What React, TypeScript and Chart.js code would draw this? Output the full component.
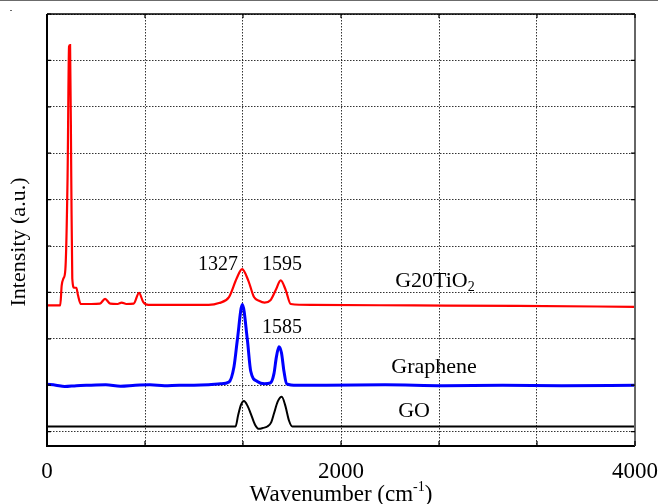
import React, { useEffect, useRef } from "react";
import { Chart, registerables } from "chart.js";

Chart.register(...registerables);

const FONT = "'Liberation Serif', 'Times New Roman', serif";

// G20TiO2 (red)
const redX = [0, 90, 100, 112, 125, 140, 150, 157, 165, 172, 185, 200, 210, 230, 300, 360, 395, 430, 480, 508, 540, 590, 626, 655, 690, 1100, 1170, 1238, 1290, 1327, 1370, 1408, 1442, 1480, 1520, 1556, 1590, 1624, 1658, 1800, 2500, 3200, 4000];
const redY = [2.72, 2.72, 3.15, 3.3, 3.5, 5.5, 8.3, 8.33, 5.5, 3.3, 3.1, 3.1, 2.95, 2.75, 2.75, 2.76, 2.86, 2.76, 2.75, 2.78, 2.75, 2.76, 2.99, 2.79, 2.73, 2.73, 2.77, 2.9, 3.3, 3.5, 3.25, 2.9, 2.82, 2.78, 2.83, 3.05, 3.26, 3.05, 2.75, 2.73, 2.72, 2.71, 2.69];

// Graphene (blue)
const blueX = [0, 60, 120, 200, 300, 400, 500, 600, 700, 800, 900, 1000, 1100, 1180, 1238, 1272, 1295, 1329, 1363, 1386, 1431, 1480, 1520, 1544, 1560, 1578, 1595, 1612, 1630, 1700, 1900, 2300, 2700, 3100, 3500, 4000];
const blueY = [1.02, 1.0, 0.97, 0.99, 1.0, 1.01, 0.98, 1.0, 1.01, 0.99, 1.0, 1.0, 1.01, 1.03, 1.07, 1.4, 1.98, 2.74, 1.98, 1.3, 1.08, 1.03, 1.05, 1.25, 1.6, 1.83, 1.7, 1.3, 1.03, 1.0, 1.0, 1.01, 0.99, 1.0, 0.99, 1.0];

// GO (black)
const goX = [0, 1283, 1300, 1320, 1340, 1365, 1386, 1415, 1442, 1470, 1499, 1525, 1544, 1570, 1597, 1622, 1646, 1669, 4000];
const goY = [0.11, 0.11, 0.35, 0.58, 0.66, 0.55, 0.39, 0.15, 0.06, 0.08, 0.11, 0.2, 0.39, 0.65, 0.75, 0.55, 0.24, 0.11, 0.11];

// axes
const xGrid = [0, 666.67, 1333.33, 2000, 2666.67, 3333.33, 4000];
const xTickLabels = ["0", "", "", "2000", "", "", "4000"];
const yGrid = [0, 1, 2, 3, 4, 5, 6, 7, 8, 9];
const xMin = 0;
const xMax = 4000;
const yMin = -0.31;
const yMax = 9;

// annotations: text, x value, y value
const peakLabels = ["1327", "1595", "1585"];
const peakLabelX = [1163, 1599, 1599];
const peakLabelY = [3.59, 3.59, 2.24];
const seriesNames = ["Graphene", "GO"];
const seriesNameX = [2633, 2497];
const seriesNameY = [1.39, 0.45];
const g20Label = { base: "G20TiO", sub: "2", x: 2639, y: 3.24 };

const toPts = (xs: number[], ys: number[]) => xs.map((x, i) => ({ x, y: ys[i] }));

const decorPlugin = {
  id: "decor",
  afterDraw(chart: any) {
    const { ctx, chartArea: ca, scales } = chart;
    const xs = scales.x;
    const ys = scales.y;
    ctx.save();
    // page top line artifact
    ctx.fillStyle = "#6b6b6b";
    ctx.fillRect(0, 0, chart.width, 1);
    ctx.fillRect(10, 10, 2, 1);

    // frame
    ctx.lineCap = "butt";
    ctx.strokeStyle = "#000";
    ctx.lineWidth = 1.5;
    ctx.beginPath();
    ctx.moveTo(ca.left, ca.top);
    ctx.lineTo(ca.right, ca.top);
    ctx.stroke();
    ctx.lineWidth = 2;
    ctx.beginPath();
    ctx.moveTo(ca.left, ca.top);
    ctx.lineTo(ca.left, ca.bottom);
    ctx.lineTo(ca.right, ca.bottom);
    ctx.stroke();
    ctx.strokeStyle = "#666";
    ctx.beginPath();
    ctx.moveTo(ca.right, ca.top);
    ctx.lineTo(ca.right, ca.bottom);
    ctx.stroke();

    // inward tick marks
    ctx.strokeStyle = "#000";
    ctx.lineWidth = 1.2;
    xGrid.forEach((v) => {
      const px = xs.getPixelForValue(v);
      ctx.beginPath();
      ctx.moveTo(px, ca.bottom);
      ctx.lineTo(px, ca.bottom - 5);
      ctx.moveTo(px, ca.top);
      ctx.lineTo(px, ca.top + 4);
      ctx.stroke();
    });
    yGrid.forEach((v) => {
      const py = ys.getPixelForValue(v);
      ctx.beginPath();
      ctx.moveTo(ca.left, py);
      ctx.lineTo(ca.left + 4, py);
      ctx.moveTo(ca.right, py);
      ctx.lineTo(ca.right - 4, py);
      ctx.stroke();
    });

    // annotations
    ctx.fillStyle = "#000";
    ctx.textAlign = "center";
    ctx.textBaseline = "middle";
    ctx.font = `20px ${FONT}`;
    peakLabels.forEach((t, i) => {
      ctx.fillText(t, xs.getPixelForValue(peakLabelX[i]), ys.getPixelForValue(peakLabelY[i]));
    });
    ctx.font = `22px ${FONT}`;
    seriesNames.forEach((t, i) => {
      ctx.fillText(t, xs.getPixelForValue(seriesNameX[i]), ys.getPixelForValue(seriesNameY[i]));
    });
    // G20TiO2 with subscript
    {
      ctx.font = `22px ${FONT}`;
      const wBase = ctx.measureText(g20Label.base).width;
      ctx.font = `14px ${FONT}`;
      const wSub = ctx.measureText(g20Label.sub).width;
      const cx = xs.getPixelForValue(g20Label.x);
      const cy = ys.getPixelForValue(g20Label.y);
      const left = cx - (wBase + wSub) / 2;
      ctx.textAlign = "left";
      ctx.font = `22px ${FONT}`;
      ctx.fillText(g20Label.base, left, cy);
      ctx.font = `14px ${FONT}`;
      ctx.fillText(g20Label.sub, left + wBase, cy + 6);
    }

    // x axis title with superscript
    {
      const main = "Wavenumber (cm";
      const sup = "-1";
      const close = ")";
      ctx.textBaseline = "alphabetic";
      ctx.font = `23px ${FONT}`;
      const w1 = ctx.measureText(main).width;
      const w3 = ctx.measureText(close).width;
      ctx.font = `14px ${FONT}`;
      const w2 = ctx.measureText(sup).width;
      const cx = (ca.left + ca.right) / 2;
      const base = 501;
      let x = cx - (w1 + w2 + w3) / 2;
      ctx.textAlign = "left";
      ctx.font = `23px ${FONT}`;
      ctx.fillText(main, x, base);
      x += w1;
      ctx.font = `14px ${FONT}`;
      ctx.fillText(sup, x, base - 10);
      x += w2;
      ctx.font = `23px ${FONT}`;
      ctx.fillText(close, x, base);
    }

    // y axis title
    ctx.save();
    ctx.translate(19, (ca.top + ca.bottom) / 2 + 12);
    ctx.rotate(-Math.PI / 2);
    ctx.textAlign = "center";
    ctx.textBaseline = "middle";
    ctx.font = `22px ${FONT}`;
    ctx.fillText("Intensity (a.u.)", 0, 0);
    ctx.restore();

    ctx.restore();
  },
};

export default function App() {
  const ref = useRef<HTMLCanvasElement | null>(null);

  useEffect(() => {
    if (!ref.current) return;
    const gridColor = "rgba(0,0,0,0.8)";
    const chart = new Chart(ref.current, {
      type: "line",
      data: {
        datasets: [
          { label: "G20TiO2", data: toPts(redX, redY), borderColor: "#ff0000", borderWidth: 2.2, pointRadius: 0, cubicInterpolationMode: "monotone" },
          { label: "Graphene", data: toPts(blueX, blueY), borderColor: "#0000ff", borderWidth: 3, pointRadius: 0, cubicInterpolationMode: "monotone" },
          { label: "GO", data: toPts(goX, goY), borderColor: "#000000", borderWidth: 2, pointRadius: 0, cubicInterpolationMode: "monotone" },
        ],
      },
      options: {
        animation: false,
        responsive: false,
        layout: { padding: { top: 14, right: 23, left: 0, bottom: 0 } },
        plugins: { legend: { display: false }, tooltip: { enabled: false } },
        scales: {
          x: {
            type: "linear",
            min: xMin,
            max: xMax,
            afterBuildTicks: (s: any) => {
              s.ticks = xGrid.map((v) => ({ value: v }));
            },
            afterFit: (s: any) => {
              s.height = 58;
              s.paddingLeft = 0;
              s.paddingRight = 0;
            },
            ticks: {
              callback: (_v: any, i: number) => xTickLabels[i],
              font: { family: FONT, size: 23 },
              color: "#000",
              padding: 12,
              maxRotation: 0,
              autoSkip: false,
            },
            grid: { color: gridColor, lineWidth: 1, drawTicks: false },
            border: { display: false, dash: [1.5, 1.5] },
          },
          y: {
            type: "linear",
            min: yMin,
            max: yMax,
            afterBuildTicks: (s: any) => {
              s.ticks = yGrid.map((v) => ({ value: v }));
            },
            afterFit: (s: any) => {
              s.width = 47;
              s.paddingTop = 0;
              s.paddingBottom = 0;
            },
            ticks: { display: false },
            grid: { color: gridColor, lineWidth: 1, drawTicks: false },
            border: { display: false, dash: [1.5, 1.5] },
          },
        },
      },
      plugins: [decorPlugin],
    } as any);
    return () => chart.destroy();
  }, []);

  return (
    <div style={{ position: "absolute", left: 0, top: 0, width: 658, height: 504, background: "#fff" }}>
      <canvas ref={ref} width={658} height={504} style={{ display: "block" }} />
    </div>
  );
}
